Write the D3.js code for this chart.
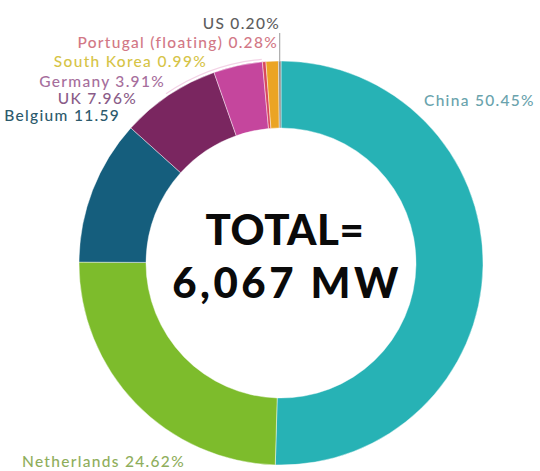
<!DOCTYPE html>
<html>
<head>
<meta charset="utf-8">
<script src="https://cdn.jsdelivr.net/npm/d3@7"></script>
<style>
  html, body { margin: 0; padding: 0; background: #ffffff; }
  svg { display: block; }
</style>
</head>
<body>
<div id="chart"></div>
<script>
// Installed offshore/floating wind capacity share by country
const countries = ["China", "Netherlands", "Belgium", "UK", "Germany", "Portugal (floating)", "South Korea", "US"];
const shares = [50.45, 24.62, 11.59, 7.96, 3.91, 0.28, 0.99, 0.20];
const shareSuffix = ["%", "%", "", "%", "%", "%", "%", "%"];
const totalLines = ["TOTAL=", "6,067 MW"];

const sliceColors = ["#27b2b5", "#7dbc2c", "#155e7d", "#7a2660", "#c5469d", "#d9485c", "#eba424", "#8d8d8d"];
const labelColors = ["#6aa3ad", "#8fae5c", "#2c5a6c", "#8a5c88", "#a66e9c", "#d27886", "#d6c447", "#5e5e5e"];

// label anchor placement, per country (x, baseline y, text-anchor)
const labelPlace = {
  "China": [424, 106, "start"],
  "Netherlands": [22, 467, "start"],
  "Belgium": [120, 121, "end"],
  "UK": [137, 104, "end"],
  "Germany": [165, 87, "end"],
  "South Korea": [207, 67, "end"],
  "Portugal (floating)": [278, 48, "end"],
  "US": [280, 29, "end"]
};

const W = 540, H = 471;
const cx = 281, cy = 263, rOuter = 202, rInner = 135;

const svg = d3.select("#chart").append("svg")
  .attr("width", W).attr("height", H)
  .attr("viewBox", `0 0 ${W} ${H}`);

const data = countries.map((c, i) => ({ country: c, share: shares[i], i }));

const pie = d3.pie().value(d => d.share).sort(null);
const arc = d3.arc().innerRadius(rInner).outerRadius(rOuter);

const g = svg.append("g").attr("transform", `translate(${cx},${cy})`);

// faint halo along the outer rim of the upper slices
g.append("path")
  .attr("d", d3.arc().innerRadius(rOuter + 2).outerRadius(rOuter + 3.2)
    .startAngle(-Math.PI * 0.19).endAngle(-Math.PI * 0.03)())
  .attr("fill", "#f3d3e6");

g.selectAll("path.slice")
  .data(pie(data))
  .join("path")
  .attr("class", "slice")
  .attr("d", arc)
  .attr("fill", d => sliceColors[d.data.i])
  .attr("stroke", "#ffffff")
  .attr("stroke-opacity", 0.55)
  .attr("stroke-width", 0.8);

// leader from the US label down to its sliver
const usArc = pie(data)[countries.indexOf("US")];
const usAngle = (usArc.startAngle + usArc.endAngle) / 2;
svg.append("line")
  .attr("x1", cx + Math.sin(usAngle) * rOuter)
  .attr("x2", cx + Math.sin(usAngle) * rOuter)
  .attr("y1", 33)
  .attr("y2", cy - Math.cos(usAngle) * rOuter)
  .attr("stroke", "#9a9a9a")
  .attr("stroke-width", 1);

// country labels
svg.selectAll("text.lbl")
  .data(data)
  .join("text")
  .attr("class", "lbl")
  .attr("x", d => labelPlace[d.country][0])
  .attr("y", d => labelPlace[d.country][1])
  .attr("text-anchor", d => labelPlace[d.country][2])
  .attr("fill", d => labelColors[d.i])
  .style("font-family", "Lato, 'Noto Sans', sans-serif")
  .style("font-size", "15.5px")
  .style("font-weight", 500)
  .style("letter-spacing", "1.3px")
  .text(d => `${d.country} ${d.share.toFixed(2)}${shareSuffix[d.i]}`);

// centre total
const centre = svg.append("g");
centre.append("text")
  .attr("x", 285).attr("y", 245)
  .attr("text-anchor", "middle")
  .style("font-family", "Lato, 'DejaVu Sans', sans-serif")
  .style("font-weight", 900)
  .style("font-size", "42px")
  .style("letter-spacing", "0.5px")
  .attr("fill", "#0a0a0a")
  .text(totalLines[0]);
centre.append("text")
  .attr("x", 287).attr("y", 298)
  .attr("text-anchor", "middle")
  .style("font-family", "Lato, 'DejaVu Sans', sans-serif")
  .style("font-weight", 900)
  .style("font-size", "42px")
  .style("letter-spacing", "3.5px")
  .attr("fill", "#0a0a0a")
  .text(totalLines[1]);
</script>
</body>
</html>
